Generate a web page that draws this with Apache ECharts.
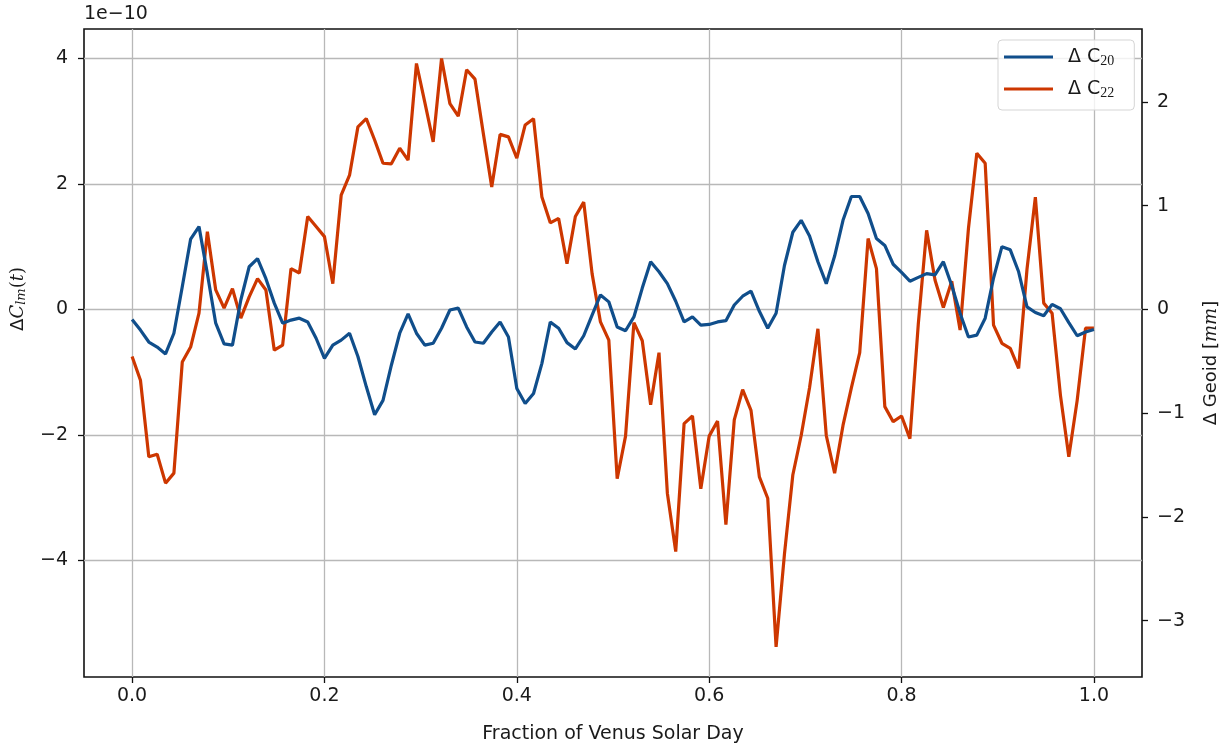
<!DOCTYPE html>
<html>
<head>
<meta charset="utf-8">
<script src="https://cdn.jsdelivr.net/npm/echarts@6/dist/echarts.min.js"></script>
<style>
html,body{margin:0;padding:0;background:#fff;}
#chart{width:1225px;height:747px;}
</style>
</head>
<body>
<div id="chart"></div>
<script>
// Sampling grid: 116 samples over one Venus solar day
const nSamples = 116;
const fraction = Array.from({length: nSamples}, (_, i) => i / (nSamples - 1));

// Δ C20 (units of 1e-10)
const c20 = [
  -0.16, -0.33, -0.52, -0.60, -0.71, -0.38, 0.36, 1.12, 1.32, 0.57,
  -0.22, -0.55, -0.57, 0.15, 0.68, 0.81, 0.49, 0.10, -0.22, -0.17,
  -0.14, -0.20, -0.46, -0.78, -0.57, -0.49, -0.38, -0.75, -1.23, -1.68,
  -1.45, -0.89, -0.38, -0.07, -0.38, -0.57, -0.54, -0.30, -0.01, 0.02,
  -0.28, -0.52, -0.54, -0.36, -0.20, -0.44, -1.26, -1.50, -1.34, -0.86,
  -0.20, -0.30, -0.53, -0.63, -0.42, -0.09, 0.23, 0.12, -0.28, -0.34,
  -0.12, 0.34, 0.76, 0.60, 0.41, 0.13, -0.20, -0.12, -0.25, -0.24,
  -0.20, -0.18, 0.07, 0.21, 0.29, -0.03, -0.30, -0.06, 0.70, 1.23,
  1.42, 1.17, 0.76, 0.41, 0.85, 1.42, 1.80, 1.80, 1.53, 1.13,
  1.02, 0.72, 0.59, 0.45, 0.51, 0.57, 0.55, 0.76, 0.38, -0.06,
  -0.44, -0.41, -0.14, 0.50, 1.00, 0.95, 0.60, 0.04, -0.05, -0.10,
  0.08, 0.01, -0.21, -0.42, -0.36, -0.32
];

// Δ C22 (units of 1e-10)
const c22 = [
  -0.75, -1.13, -2.35, -2.31, -2.77, -2.61, -0.84, -0.60, -0.06, 1.24,
  0.31, 0.02, 0.33, -0.14, 0.20, 0.49, 0.31, -0.65, -0.57, 0.65,
  0.58, 1.48, 1.32, 1.16, 0.41, 1.82, 2.14, 2.91, 3.04, 2.70,
  2.33, 2.32, 2.57, 2.38, 3.92, 3.30, 2.67, 4.00, 3.28, 3.08,
  3.82, 3.67, 2.80, 1.95, 2.79, 2.75, 2.41, 2.94, 3.04, 1.79,
  1.38, 1.45, 0.73, 1.48, 1.71, 0.57, -0.20, -0.49, -2.70, -2.02,
  -0.21, -0.50, -1.52, -0.69, -2.93, -3.86, -1.82, -1.70, -2.86, -2.02,
  -1.78, -3.43, -1.76, -1.28, -1.61, -2.67, -3.01, -5.38, -3.90, -2.64,
  -2.01, -1.25, -0.31, -2.01, -2.61, -1.85, -1.25, -0.69, 1.13, 0.65,
  -1.55, -1.79, -1.70, -2.06, -0.24, 1.26, 0.47, 0.03, 0.45, -0.33,
  1.29, 2.49, 2.33, -0.25, -0.54, -0.62, -0.94, 0.64, 1.79, 0.10,
  -0.06, -1.37, -2.35, -1.45, -0.30, -0.30
];

// Axis ticks
const xTicks = [0, 0.2, 0.4, 0.6, 0.8, 1.0];
const leftTicks = [-4, -2, 0, 2, 4];
const rightTicks = [-3, -2, -1, 0, 1, 2];

// Axis extents
const xMin = -0.05, xMax = 1.05;
const leftMin = -5.86, leftMax = 4.47;
const geoidPerC = 0.6045; // mm per 1e-10
const rightMin = leftMin * geoidPerC, rightMax = leftMax * geoidPerC;

const FONT = 'DejaVu Sans';
const FS = 19;
const TXT = '#1a1a1a';
const fmtNum = (v, d) => {
  const s = Math.abs(v).toFixed(d);
  return (v < 0 ? '\u2212' : '') + s;
};

const chart = echarts.init(document.getElementById('chart'), null, {renderer: 'canvas'});

const tickStyle = {color: '#111', width: 1.3};
const gridStyle = {color: '#b8b8b8', width: 1.3};

const option = {
  backgroundColor: '#ffffff',
  animation: false,
  textStyle: {fontFamily: FONT},
  grid: {
    left: 84, right: 83, top: 29, bottom: 70,
    outerBoundsMode: 'none', containLabel: false,
    show: true, borderColor: '#111', borderWidth: 1.6, backgroundColor: 'transparent'
  },
  legend: {
    orient: 'vertical',
    left: 998, top: 40,
    padding: [7, 20, 10, 6],
    itemWidth: 49, itemHeight: 3,
    itemGap: 11,
    icon: 'rect',
    backgroundColor: 'rgba(255,255,255,0.8)',
    borderColor: '#d5d5d5', borderWidth: 1, borderRadius: 4,
    data: ['C20', 'C22'],
    formatter: name => '{n|\u0394 C}{s|' + name.slice(1) + '}',
    textStyle: {
      padding: [0, 0, 0, 10],
      rich: {
        n: {fontFamily: FONT, fontSize: FS, color: TXT, lineHeight: 22, verticalAlign: 'middle'},
        s: {fontFamily: 'Liberation Serif', fontSize: 14, color: TXT, lineHeight: 22, verticalAlign: 'bottom', padding: [7, 0, 0, 0]}
      }
    }
  },
  graphic: [{
    type: 'text', left: 84, top: 5,
    style: {text: '1e\u221210', font: FS + 'px "DejaVu Sans"', fill: TXT}
  }],
  xAxis: {
    type: 'value', min: xMin, max: xMax,
    name: 'Fraction of Venus Solar Day',
    nameLocation: 'middle', nameGap: 48,
    nameTextStyle: {fontFamily: FONT, fontSize: FS, color: TXT},
    axisLine: {show: false, onZero: false},
    axisTick: {show: true, customValues: xTicks, length: 6, inside: false, lineStyle: tickStyle},
    axisLabel: {customValues: xTicks, formatter: v => fmtNum(v, 1), fontFamily: FONT, fontSize: FS, color: TXT, margin: 10},
    splitLine: {show: true, lineStyle: gridStyle}
  },
  yAxis: [{
    type: 'value', position: 'left', min: leftMin, max: leftMax,
    name: '{d|\u0394}{c|C}{s|lm}{p|(}{t|t}{p|)}',
    nameLocation: 'middle', nameGap: 56, nameRotate: 90,
    nameTextStyle: {
      padding: [0, 0, 0, 108],
      rich: {
        d: {fontFamily: FONT, fontSize: 18, color: TXT},
        c: {fontFamily: 'DejaVu Serif', fontStyle: 'italic', fontSize: 18, color: TXT},
        s: {fontFamily: 'DejaVu Serif', fontStyle: 'italic', fontSize: 13, color: TXT, verticalAlign: 'bottom', padding: [7, 0, 0, 0]},
        p: {fontFamily: 'DejaVu Serif', fontSize: 18, color: TXT},
        t: {fontFamily: 'DejaVu Serif', fontStyle: 'italic', fontSize: 18, color: TXT}
      }
    },
    axisLine: {show: false, onZero: false},
    axisTick: {show: true, customValues: leftTicks, length: 6, lineStyle: tickStyle},
    axisLabel: {customValues: leftTicks, formatter: v => fmtNum(v, 0), fontFamily: FONT, fontSize: FS, color: TXT, margin: 16},
    splitLine: {show: true, lineStyle: gridStyle}
  }, {
    type: 'value', position: 'right', min: rightMin, max: rightMax,
    name: '{d|\u0394 Geoid [}{m|mm}{d|]}',
    nameLocation: 'middle', nameGap: 60, nameRotate: 90,
    nameTextStyle: {
      padding: [0, 20, 0, 0],
      rich: {
        d: {fontFamily: FONT, fontSize: 18, color: TXT},
        m: {fontFamily: 'DejaVu Serif', fontStyle: 'italic', fontSize: 18, color: TXT}
      }
    },
    axisLine: {show: false, onZero: false},
    axisTick: {show: true, customValues: rightTicks, length: 6, lineStyle: tickStyle},
    axisLabel: {customValues: rightTicks, formatter: v => fmtNum(v, 0), fontFamily: FONT, fontSize: FS, color: TXT, margin: 15},
    splitLine: {show: false}
  }],
  series: [{
    name: 'C20', type: 'line', yAxisIndex: 0,
    data: fraction.map((x, i) => [x, c20[i]]),
    showSymbol: false, symbol: 'none',
    lineStyle: {color: '#104e8b', width: 3.2},
    itemStyle: {color: '#104e8b'},
    z: 3
  }, {
    name: 'C22', type: 'line', yAxisIndex: 0,
    data: fraction.map((x, i) => [x, c22[i]]),
    showSymbol: false, symbol: 'none',
    lineStyle: {color: '#cd3700', width: 3.2},
    itemStyle: {color: '#cd3700'},
    z: 2
  }]
};
chart.setOption(option);
</script>
</body>
</html>
